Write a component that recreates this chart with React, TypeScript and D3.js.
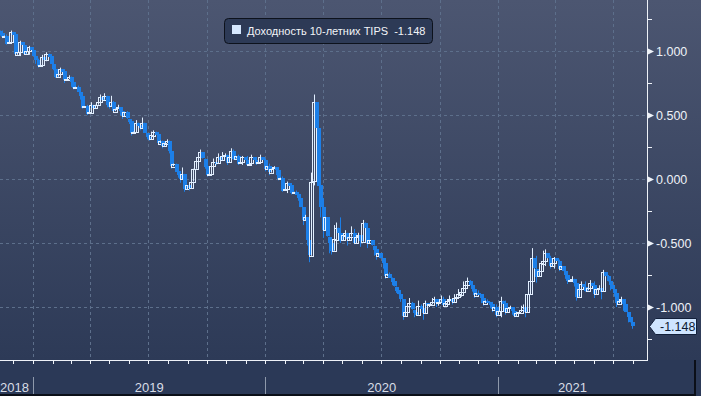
import React from "react";
import * as d3 from "d3";

// ---- Data: weekly bars (week starting Monday), 10-year TIPS real yield ----
// each week: mid-week close (mids), week close (closes), week high / low
const firstWeek = new Date(2018, 10, 5);
const lastWeekEnd = new Date(2021, 6, 27);
const firstOpen = 1.15;
const closes = [
  1.14, 1.12, 1.07, 1.13, 0.99, 1.05, 1.0, 1.01, 0.93, 0.89, 0.93, 0.96, 0.86, 0.82, 0.84, 0.78, 0.76, 0.72, 0.65, 0.57,
  0.52, 0.56, 0.6, 0.62, 0.58, 0.6, 0.55, 0.53, 0.52, 0.45, 0.37, 0.42, 0.44, 0.33, 0.34, 0.35, 0.3, 0.28, 0.22, 0.12,
  0.03, 0.04, -0.05, -0.02, 0.14, 0.21, 0.1, 0.04, 0.13, 0.17, 0.18, 0.13, 0.22, 0.18, 0.13, 0.15, 0.12, 0.15, 0.13, 0.15,
  0.1, 0.08, 0.07, 0.01, -0.08, -0.05, -0.1, -0.15, -0.32, -0.48, -0.02, 0.4, -0.22, -0.3, -0.5, -0.47, -0.42, -0.44, -0.47, -0.42,
  -0.45, -0.49, -0.38, -0.48, -0.55, -0.58, -0.66, -0.74, -0.8, -0.87, -0.94, -1.04, -0.97, -1.04, -0.99, -1.05, -0.99, -0.96, -0.97, -0.94,
  -0.97, -0.94, -0.93, -0.9, -0.85, -0.8, -0.86, -0.89, -0.93, -0.95, -0.98, -1.0, -1.03, -0.97, -1.01, -1.03, -1.05, -1.02, -1.04, -0.8,
  -0.7, -0.72, -0.64, -0.62, -0.66, -0.64, -0.68, -0.75, -0.79, -0.81, -0.86, -0.84, -0.85, -0.83, -0.86, -0.88, -0.76, -0.83, -0.89, -0.95,
  -0.98, -1.08, -1.148,
];
const mids = [
  1.16, 1.11, 1.06, 1.15, 0.97, 1.07, 0.98, 1.03, 0.96, 0.88, 0.95, 0.98, 0.9, 0.8, 0.86, 0.77, 0.8, 0.71, 0.68, 0.56,
  0.51, 0.58, 0.58, 0.64, 0.65, 0.57, 0.53, 0.56, 0.49, 0.47, 0.36, 0.44, 0.4, 0.36, 0.31, 0.37, 0.28, 0.26, 0.3, 0.1,
  0.06, 0.0, -0.08, -0.07, 0.08, 0.17, 0.16, 0.03, 0.1, 0.12, 0.15, 0.19, 0.17, 0.16, 0.12, 0.17, 0.11, 0.17, 0.12, 0.17,
  0.08, 0.05, 0.09, 0.0, -0.09, -0.03, -0.11, -0.12, -0.22, -0.3, -0.6, 0.6, -0.05, -0.4, -0.45, -0.56, -0.38, -0.48, -0.42, -0.45,
  -0.5, -0.44, -0.34, -0.5, -0.52, -0.6, -0.62, -0.76, -0.77, -0.84, -0.9, -1.07, -0.99, -1.02, -1.06, -1.01, -0.97, -0.98, -0.94, -0.96,
  -0.99, -0.95, -0.96, -0.92, -0.88, -0.83, -0.83, -0.91, -0.9, -0.97, -0.96, -1.02, -1.06, -0.95, -1.04, -1.0, -1.07, -1.04, -1.0, -0.9,
  -0.62, -0.76, -0.66, -0.58, -0.68, -0.62, -0.7, -0.72, -0.8, -0.78, -0.92, -0.82, -0.87, -0.81, -0.9, -0.85, -0.73, -0.8, -0.86, -0.97,
  -0.94, -1.04, -1.12,
];
const highs = [
  1.17, 1.16, 1.13, 1.16, 1.08, 1.08, 1.06, 1.04, 0.99, 0.94, 0.97, 0.99, 0.97, 0.88, 0.87, 0.82, 0.81, 0.77, 0.73, 0.66,
  0.58, 0.6, 0.64, 0.66, 0.67, 0.65, 0.61, 0.58, 0.56, 0.53, 0.44, 0.46, 0.48, 0.4, 0.37, 0.38, 0.35, 0.3, 0.31, 0.2,
  0.12, 0.09, 0.04, 0.02, 0.17, 0.23, 0.19, 0.11, 0.16, 0.2, 0.21, 0.2, 0.24, 0.23, 0.19, 0.18, 0.18, 0.19, 0.17, 0.19,
  0.16, 0.12, 0.1, 0.07, 0.02, -0.02, -0.04, -0.09, -0.14, -0.28, 0.05, 0.66, 0.15, -0.15, -0.3, -0.36, -0.34, -0.3, -0.4, -0.37,
  -0.39, -0.42, -0.32, -0.36, -0.49, -0.53, -0.58, -0.66, -0.73, -0.82, -0.86, -0.95, -0.93, -0.96, -0.95, -0.98, -0.95, -0.93, -0.92, -0.91,
  -0.92, -0.91, -0.9, -0.86, -0.8, -0.77, -0.79, -0.85, -0.87, -0.9, -0.94, -0.96, -0.98, -0.92, -0.95, -0.99, -1.0, -0.99, -0.98, -0.77,
  -0.54, -0.6, -0.56, -0.55, -0.6, -0.61, -0.63, -0.68, -0.74, -0.76, -0.79, -0.8, -0.8, -0.79, -0.8, -0.83, -0.71, -0.75, -0.84, -0.88,
  -0.92, -0.98, -1.1,
];
const lows = [
  1.12, 1.1, 1.05, 1.08, 0.96, 0.96, 0.97, 0.97, 0.9, 0.87, 0.88, 0.92, 0.85, 0.79, 0.79, 0.75, 0.72, 0.7, 0.62, 0.55,
  0.5, 0.51, 0.55, 0.58, 0.56, 0.55, 0.52, 0.5, 0.47, 0.43, 0.34, 0.36, 0.38, 0.31, 0.3, 0.31, 0.27, 0.24, 0.2, 0.08,
  0.01, -0.03, -0.1, -0.09, -0.01, 0.12, 0.08, 0.02, 0.04, 0.11, 0.14, 0.11, 0.13, 0.15, 0.11, 0.11, 0.1, 0.11, 0.11, 0.12,
  0.06, 0.03, 0.03, -0.01, -0.1, -0.11, -0.12, -0.17, -0.36, -0.52, -0.65, -0.05, -0.3, -0.46, -0.58, -0.59, -0.5, -0.5, -0.52, -0.48,
  -0.51, -0.53, -0.47, -0.54, -0.6, -0.63, -0.7, -0.78, -0.83, -0.89, -0.96, -1.1, -1.06, -1.08, -1.07, -1.1, -1.02, -1.0, -1.0, -0.99,
  -1.0, -0.98, -0.98, -0.95, -0.92, -0.88, -0.88, -0.93, -0.97, -0.99, -1.01, -1.04, -1.08, -1.08, -1.06, -1.06, -1.08, -1.06, -1.08, -1.02,
  -0.8, -0.81, -0.73, -0.68, -0.7, -0.7, -0.72, -0.78, -0.82, -0.84, -0.95, -0.9, -0.88, -0.88, -0.93, -0.94, -0.88, -0.87, -0.92, -1.0,
  -1.03, -1.12, -1.17,
];
const majorTicks = [-1, -0.5, 0, 0.5, 1];
const minorTicks = [-1.25, -0.75, -0.25, 0.25, 0.75, 1.25];
const seriesName = "Доходность 10-летних TIPS";

// ---- Layout ----
const W = 701;
const H = 396;
const PR = 647; // plot right (axis line)
const PB = 360; // plot bottom (time axis)

const fmt = d3.formatLocale({ decimal: ".", thousands: ",", grouping: [3], currency: ["$", ""], minus: "-" }).format(".3f");

type Candle = { t: Date; o: number; c: number; h: number; l: number };

export default function App() {
  const x = d3.scaleTime().domain([new Date(2018, 10, 10), new Date(2021, 7, 23)]).range([0, PR]);
  const y = d3.scaleLinear().domain([-1, 1]).range([307, 51]);

  const weeks = d3.timeMonday.range(firstWeek, lastWeekEnd);
  const candles: Candle[] = [];
  weeks.forEach((d, i) => {
    const p = i === 0 ? firstOpen : closes[i - 1];
    const m = mids[i];
    const c = closes[i];
    const aTop = Math.max(p, m), aBot = Math.min(p, m);
    const bTop = Math.max(m, c), bBot = Math.min(m, c);
    const hi = Math.max(highs[i], aTop, bTop);
    const lo = Math.min(lows[i], aBot, bBot);
    candles.push({ t: d3.timeHour.offset(d, 24), o: p, c: m, h: aTop >= bTop ? hi : aTop, l: aBot <= bBot ? lo : aBot });
    candles.push({ t: d3.timeHour.offset(d, 108), o: m, c, h: bTop > aTop ? hi : bTop, l: bBot < aBot ? lo : bBot });
  });

  const months = d3.timeMonth.range(x.domain()[0], x.domain()[1]);
  const quarters = months.filter((mm) => mm.getMonth() % 3 === 0);
  const years = d3.timeYear.range(d3.timeYear.floor(x.domain()[0]), x.domain()[1]);

  const last = closes[closes.length - 1];
  const lastY = Math.round(y(last)) + 0.5;
  const font = "'Liberation Sans', Arial, sans-serif";
  const upColor = "#e2efff";
  const downColor = "#1c7fe8";

  return (
    <svg width={W} height={H} style={{ position: "fixed", left: 0, top: 0, display: "block" }}>
      <defs>
        <linearGradient id="bg" x1="0" y1="0" x2="0" y2={PB} gradientUnits="userSpaceOnUse">
          <stop offset="0%" stopColor="#4c5671" />
          <stop offset="100%" stopColor="#2d3a57" />
        </linearGradient>
        <clipPath id="plot">
          <rect x={0} y={0} width={PR} height={PB} />
        </clipPath>
      </defs>
      <rect x={0} y={0} width={W} height={H} fill="url(#bg)" />
      <rect x={0} y={PB} width={W} height={H - PB} fill="#2b3957" />

      {/* grid */}
      <g stroke="#5d6f8b" strokeWidth={1} strokeDasharray="3,3">
        {majorTicks.map((t) => (
          <line key={"h" + t} x1={0} x2={PR} y1={Math.round(y(t)) + 0.5} y2={Math.round(y(t)) + 0.5} />
        ))}
        {quarters.map((q) => (
          <line key={"v" + +q} x1={Math.round(x(q)) + 0.5} x2={Math.round(x(q)) + 0.5} y1={0} y2={PB} />
        ))}
      </g>

      {/* candles */}
      <g clipPath="url(#plot)">
        {candles.map((k, i) => {
          const cx = Math.round(x(k.t));
          const up = k.c >= k.o;
          const col = up ? upColor : downColor;
          const yTop = y(Math.max(k.o, k.c));
          const yBot = y(Math.min(k.o, k.c));
          return (
            <g key={i}>
              <line x1={cx + 0.5} x2={cx + 0.5} y1={y(k.h)} y2={y(k.l)} stroke={col} strokeWidth={1} />
              {up ? (
                <rect x={cx - 1.5} y={Math.round(yTop) + 0.5} width={4} height={Math.max(1, Math.round(yBot - yTop))} fill="none" stroke={col} strokeWidth={1} />
              ) : (
                <rect x={cx - 1} y={Math.round(yTop)} width={4} height={Math.max(2, Math.round(yBot - yTop))} fill={col} />
              )}
            </g>
          );
        })}
      </g>

      {/* right axis */}
      <line x1={PR + 0.5} x2={PR + 0.5} y1={0} y2={PB + 0.5} stroke="#eef2f8" strokeWidth={1} />
      {minorTicks.map((t) => (
        <line key={"m" + t} x1={PR} x2={PR + 5} y1={Math.round(y(t)) + 0.5} y2={Math.round(y(t)) + 0.5} stroke="#eef2f8" />
      ))}
      {majorTicks.map((t) => {
        const yy = Math.round(y(t)) + 0.5;
        return (
          <g key={"M" + t}>
            <path d={`M${PR},${yy - 3.5}L${PR + 7},${yy}L${PR},${yy + 3.5}Z`} fill="#eef2f8" />
            <text x={656} y={yy} dy="0.36em" fill="#eef2f8" fontSize={12.5} fontFamily={font}>
              {fmt(t)}
            </text>
          </g>
        );
      })}

      {/* last value marker */}
      <path
        d={`M${PR + 2.5},${lastY}L${PR + 8.5},${lastY - 8}L${696.5},${lastY - 8}L${696.5},${lastY + 8}L${PR + 8.5},${lastY + 8}Z`}
        fill="#cfe5ff"
        stroke="#13203a"
        strokeWidth={1}
      />
      <text x={660} y={lastY} dy="0.36em" fill="#0c1a33" fontSize={12.5} fontFamily={font}>
        {fmt(last)}
      </text>

      {/* bottom time axis */}
      <line x1={0} x2={PR + 1} y1={PB + 0.5} y2={PB + 0.5} stroke="#eef2f8" strokeWidth={1} />
      {months.map((mm) => (
        <line key={"t" + +mm} x1={Math.round(x(mm)) + 0.5} x2={Math.round(x(mm)) + 0.5} y1={PB} y2={PB + 4} stroke="#eef2f8" />
      ))}
      {years.map((yr) => {
        const xs = x(yr);
        const xe = x(d3.timeYear.offset(yr, 1));
        const a = Math.max(0, xs);
        const b = Math.min(PR, xe);
        const clippedLeft = xs < 0;
        return (
          <g key={"y" + +yr}>
            {xs >= 0 && xs <= PR && (
              <line x1={Math.round(xs) + 0.5} x2={Math.round(xs) + 0.5} y1={PB + 17} y2={H - 2} stroke="#8e99ab" strokeWidth={1} />
            )}
            <text
              x={clippedLeft ? 0 : (a + b) / 2}
              y={392}
              textAnchor={clippedLeft ? "start" : "middle"}
              fill="#d8dde6"
              fontSize={13}
              fontFamily={font}
            >
              {d3.timeFormat("%Y")(yr)}
            </text>
          </g>
        );
      })}
      <rect x={694} y={PB} width={2} height={H - PB} fill="#0b0f18" />
      <rect x={0} y={H - 2} width={696} height={2} fill="#0b0f18" />

      {/* legend */}
      <rect x={224.5} y={18.5} width={208} height={25} rx={4} ry={4} fill="#2d3a56" stroke="#0d121c" strokeWidth={1} />
      <rect x={232} y={25} width={9} height={9} fill="#d6e8ff" />
      <text x={247} y={35} fill="#f2f4f8" fontSize={11} fontFamily={font} style={{ whiteSpace: "pre" }}>
        {seriesName + "  " + fmt(last)}
      </text>
    </svg>
  );
}
